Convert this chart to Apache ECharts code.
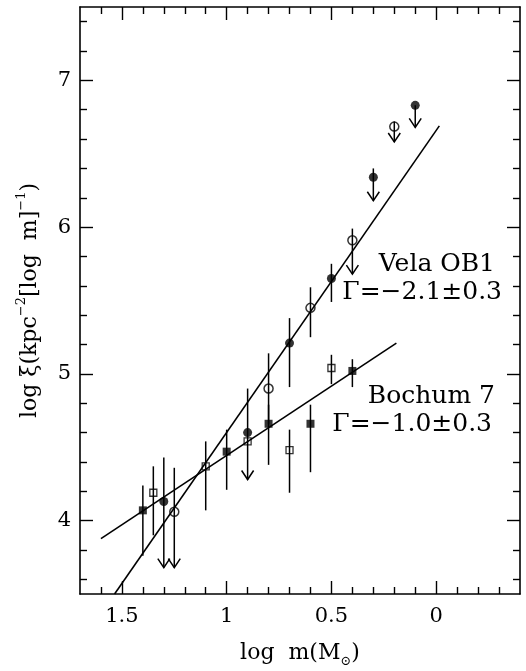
<!DOCTYPE html>
<html>
<head>
<meta charset="utf-8">
<script src="https://cdn.jsdelivr.net/npm/echarts@6/dist/echarts.min.js"></script>
<style>
html,body{margin:0;padding:0;background:#fff;}
#c{width:526px;height:671px;}
</style>
</head>
<body>
<div id="c"></div>
<script>
// ---- Data ----
// Vela OB1, filled circles
const velaFilledX  = [1.30, 0.90, 0.70, 0.50, 0.30, 0.10];
const velaFilledY  = [4.13, 4.60, 5.21, 5.65, 6.34, 6.83];
const velaFilledHi = [4.43, 4.90, 5.38, 5.75, 6.40, 6.83];
const velaFilledLo = [3.68, 4.28, 4.91, 5.49, 6.18, 6.68];
const velaFilledArrow = [1, 1, 0, 0, 1, 1];
// Vela OB1, open circles
const velaOpenX  = [1.25, 0.80, 0.60, 0.40, 0.20];
const velaOpenY  = [4.06, 4.90, 5.45, 5.91, 6.685];
const velaOpenHi = [4.36, 5.14, 5.59, 5.99, 6.72];
const velaOpenLo = [3.68, 4.66, 5.25, 5.68, 6.58];
const velaOpenArrow = [1, 0, 0, 1, 1];
// Bochum 7, filled squares
const bochFilledX  = [1.40, 1.00, 0.80, 0.60, 0.40];
const bochFilledY  = [4.07, 4.47, 4.66, 4.66, 5.02];
const bochFilledHi = [4.24, 4.62, 4.79, 4.79, 5.10];
const bochFilledLo = [3.76, 4.21, 4.38, 4.33, 4.91];
// Bochum 7, open squares
const bochOpenX  = [1.35, 1.10, 0.90, 0.70, 0.50];
const bochOpenY  = [4.19, 4.37, 4.54, 4.48, 5.04];
const bochOpenHi = [4.37, 4.54, 4.54, 4.62, 5.13];
const bochOpenLo = [3.90, 4.07, 4.54, 4.19, 4.93];
// Fitted power laws (end points)
const velaFitX = [1.535, -0.015];
const velaFitY = [3.50, 6.69];
const bochFitX = [1.60, 0.19];
const bochFitY = [3.877, 5.21];
// Axis ticks
const xMajor = [1.5, 1, 0.5, 0];
const xMinor = [1.6, 1.4, 1.3, 1.2, 1.1, 0.9, 0.8, 0.7, 0.6, 0.4, 0.3, 0.2, 0.1, -0.1, -0.2, -0.3];
const yMajor = [4, 5, 6, 7];
const yMinor = [3.6, 3.8, 4.2, 4.4, 4.6, 4.8, 5.2, 5.4, 5.6, 5.8, 6.2, 6.4, 6.6, 6.8, 7.2, 7.4];
const xRange = [-0.4, 1.7];
const yRange = [3.5, 7.5];

// ---- Build ----
function zip(...arrs){ return arrs[0].map((_, i) => arrs.map(a => a[i])); }
const errData = [].concat(
  zip(velaFilledX, velaFilledLo, velaFilledHi, velaFilledArrow),
  zip(velaOpenX, velaOpenLo, velaOpenHi, velaOpenArrow),
  zip(bochFilledX, bochFilledLo, bochFilledHi, bochFilledX.map(() => 0)),
  zip(bochOpenX, bochOpenLo, bochOpenHi, bochOpenX.map(() => 0))
);

const FONT = 'DejaVu Serif';
const black = '#000';

function xAxisDef(position, ticks, len, showLabel, showLine, extra) {
  return Object.assign({
    type: 'value', position: position, inverse: true,
    min: xRange[0], max: xRange[1],
    axisLine: {show: showLine, onZero: false, lineStyle: {color: black, width: 1.6}},
    axisTick: {show: true, inside: true, length: len, customValues: ticks, lineStyle: {color: black, width: 1.4}},
    axisLabel: {show: showLine && showLabel, customValues: ticks, color: black, fontFamily: FONT, fontSize: 21, margin: 12,
      formatter: v => String(v)},
    splitLine: {show: false}
  }, extra || {});
}
function yAxisDef(position, ticks, len, showLabel, showLine, extra) {
  return Object.assign({
    type: 'value', position: position,
    min: yRange[0], max: yRange[1],
    axisLine: {show: showLine, onZero: false, lineStyle: {color: black, width: 1.6}},
    axisTick: {show: true, inside: true, length: len, customValues: ticks, lineStyle: {color: black, width: 1.4}},
    axisLabel: {show: showLine && showLabel, customValues: ticks, color: black, fontFamily: FONT, fontSize: 21, margin: 9,
      formatter: v => String(v)},
    splitLine: {show: false}
  }, extra || {});
}

const option = {
  animation: false,
  backgroundColor: '#fff',
  grid: {left: 80, right: 6, top: 7, bottom: 77, outerBoundsMode: 'none', containLabel: false},
  xAxis: [
    xAxisDef('bottom', xMajor, 13, true, true, {
      name: 'log  m(M{sub|⊙})', nameLocation: 'middle', nameGap: 44,
      nameTextStyle: {color: black, fontFamily: FONT, fontSize: 22, lineHeight: 30,
        rich: {sub: {fontFamily: FONT, fontSize: 13, lineHeight: 13, color: black, verticalAlign: 'bottom'}}}
    }),
    xAxisDef('bottom', xMinor, 7, false, false),
    xAxisDef('top', xMajor, 13, false, true),
    xAxisDef('top', xMinor, 7, false, false)
  ],
  yAxis: [
    yAxisDef('left', yMajor, 13, true, true, {
      name: 'log ξ(kpc{sup|−2}[log  m]{sup|−1})', nameLocation: 'middle', nameGap: 22,
      nameTextStyle: {color: black, fontFamily: FONT, fontSize: 22, lineHeight: 32,
        rich: {sup: {fontFamily: FONT, fontSize: 13, lineHeight: 13, color: black, verticalAlign: 'top'}}}
    }),
    yAxisDef('left', yMinor, 7, false, false),
    yAxisDef('right', yMajor, 13, false, true),
    yAxisDef('right', yMinor, 7, false, false)
  ],
  series: [
    {
      type: 'line', data: zip(velaFitX, velaFitY), showSymbol: false, symbol: 'none',
      lineStyle: {color: black, width: 1.6}, z: 2, silent: true
    },
    {
      type: 'line', data: zip(bochFitX, bochFitY), showSymbol: false, symbol: 'none',
      lineStyle: {color: black, width: 1.6}, z: 2, silent: true
    },
    {
      type: 'custom', data: errData, encode: {x: 0, y: [1, 2]}, z: 3, silent: true,
      renderItem: function (params, api) {
        const x = api.value(0), lo = api.value(1), hi = api.value(2), arrow = api.value(3);
        const top = api.coord([x, hi]);
        const bot = api.coord([x, lo]);
        const children = [{
          type: 'line', shape: {x1: top[0], y1: top[1], x2: bot[0], y2: bot[1]},
          style: {stroke: black, lineWidth: 1.5}
        }];
        if (arrow) {
          children.push({
            type: 'polyline',
            shape: {points: [[bot[0] - 6, bot[1] - 9], [bot[0], bot[1]], [bot[0] + 6, bot[1] - 9]]},
            style: {stroke: black, fill: null, lineWidth: 1.5}
          });
        }
        return {type: 'group', children: children};
      }
    },
    {
      type: 'scatter', data: zip(velaFilledX, velaFilledY), symbol: 'circle', symbolSize: 9,
      itemStyle: {color: black}, z: 4
    },
    {
      type: 'scatter', data: zip(velaOpenX, velaOpenY), symbol: 'circle', symbolSize: 9,
      itemStyle: {color: 'rgba(0,0,0,0)', borderColor: black, borderWidth: 1.5}, z: 4
    },
    {
      type: 'scatter', data: zip(bochFilledX, bochFilledY), symbol: 'rect', symbolSize: 8,
      itemStyle: {color: black}, z: 4
    },
    {
      type: 'scatter', data: zip(bochOpenX, bochOpenY), symbol: 'rect', symbolSize: 7,
      itemStyle: {color: 'rgba(0,0,0,0)', borderColor: black, borderWidth: 1.3}, z: 4
    }
  ],
  graphic: [
    {type: 'text', right: 31, top: 252, style: {text: 'Vela OB1', font: '25px "DejaVu Serif"', fill: black}},
    {type: 'text', right: 24, top: 280, style: {text: 'Γ=−2.1±0.3', font: '25px "DejaVu Serif"', fill: black}},
    {type: 'text', right: 31, top: 384, style: {text: 'Bochum 7', font: '25px "DejaVu Serif"', fill: black}},
    {type: 'text', right: 34, top: 412, style: {text: 'Γ=−1.0±0.3', font: '25px "DejaVu Serif"', fill: black}}
  ]
};

const chart = echarts.init(document.getElementById('c'), null, {renderer: 'canvas'});
chart.setOption(option);
</script>
</body>
</html>
